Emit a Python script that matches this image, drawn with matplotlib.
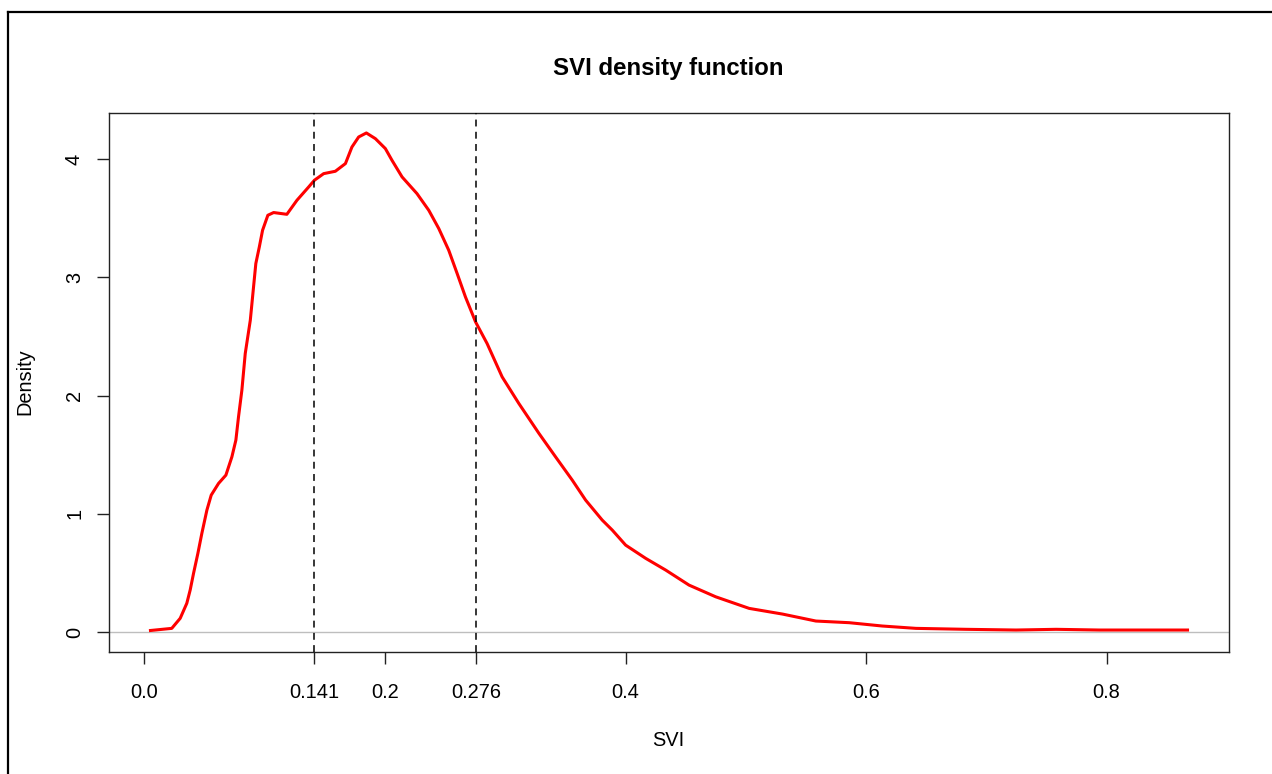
import matplotlib
matplotlib.use("Agg")
import matplotlib.pyplot as plt
from matplotlib.lines import Line2D
import numpy as np

plt.rcParams['font.family'] = ['Liberation Sans', 'DejaVu Sans']

# density curve
svi_x = [0.005, 0.0227, 0.0297, 0.0352, 0.038, 0.0408, 0.0444, 0.0477, 0.0519, 0.0555,
         0.0616, 0.0677, 0.0727, 0.076, 0.0782, 0.081, 0.0838, 0.088, 0.0907, 0.0926,
         0.0955, 0.0982, 0.1026, 0.1074, 0.1184, 0.1268, 0.1365, 0.1413, 0.149, 0.1587,
         0.1671, 0.1725, 0.1781, 0.1845, 0.192, 0.2003, 0.2058, 0.2142, 0.2266, 0.2364,
         0.2447, 0.253, 0.26, 0.2669, 0.2753, 0.2849, 0.2974, 0.3113, 0.328, 0.3418,
         0.3557, 0.3668, 0.3806, 0.389, 0.4001, 0.4168, 0.4334, 0.4528, 0.475, 0.5028,
         0.5305, 0.5583, 0.586, 0.6134, 0.6415, 0.6831, 0.7247, 0.758, 0.794, 0.8673]
density = [0.013, 0.031, 0.116, 0.243, 0.355, 0.496, 0.665, 0.834, 1.031, 1.158,
           1.257, 1.327, 1.482, 1.623, 1.820, 2.046, 2.356, 2.637, 2.919, 3.117,
           3.257, 3.398, 3.525, 3.548, 3.533, 3.652, 3.764, 3.821, 3.877, 3.897,
           3.962, 4.102, 4.187, 4.221, 4.173, 4.089, 3.990, 3.849, 3.708, 3.567,
           3.413, 3.229, 3.032, 2.834, 2.623, 2.440, 2.158, 1.933, 1.680, 1.482,
           1.285, 1.116, 0.947, 0.862, 0.735, 0.623, 0.524, 0.397, 0.298, 0.200,
           0.152, 0.093, 0.079, 0.051, 0.031, 0.023, 0.017, 0.023, 0.017, 0.017]

quantiles = [0.141, 0.276]
xticks = [0.0, 0.141, 0.2, 0.276, 0.4, 0.6, 0.8]
xtick_labels = ["0.0", "0.141", "0.2", "0.276", "0.4", "0.6", "0.8"]
yticks = [0, 1, 2, 3, 4]

fig = plt.figure(figsize=(12.72, 7.74), dpi=100)
ax = fig.add_axes([109/1272, 1-652/774, (1229-109)/1272, (652-113)/774])

ax.axhline(0, color='#BEBEBE', lw=1.0, zorder=1)
ax.plot(svi_x, density, color='red', lw=2.2, zorder=2)
for q in quantiles:
    ax.axvline(q, color='black', lw=1.1, dashes=(4.5, 3.5), zorder=3)

# R style 4% padding
xr = max(svi_x) - min(svi_x)
ax.set_xlim(min(svi_x) - 0.04*xr, max(svi_x) + 0.04*xr)
yr = max(density)
ax.set_ylim(-0.04*yr, yr*1.04)

ax.set_xticks(xticks)
ax.set_xticklabels(xtick_labels)
ax.set_yticks(yticks)
ax.set_yticklabels([str(v) for v in yticks], rotation=90, va='center')
ax.tick_params(axis='both', direction='out', length=8.5, width=1.0, labelsize=14.4, color='#222222')
ax.tick_params(axis='x', pad=13.5)
ax.tick_params(axis='y', pad=9.5)
for s in ax.spines.values():
    s.set_color('#222222')
    s.set_linewidth(1.0)

fig.text(668/1272, 1-68/774, "SVI density function", ha='center', va='center',
         fontsize=17.3, fontweight='bold')
fig.text(668/1272, 1-741/774, "SVI", ha='center', va='center', fontsize=14.4)
fig.text(25/1272, 1-382/774, "Density", ha='center', va='center', fontsize=14.4, rotation=90)

# outer frame
fig.add_artist(Line2D([8/1272, 8/1272], [0, 1-12/774], color='black', lw=1.6,
                      transform=fig.transFigure))
fig.add_artist(Line2D([8/1272, 1], [1-12/774, 1-12/774], color='black', lw=1.6,
                      transform=fig.transFigure))

fig.savefig("out.png", dpi=100)
